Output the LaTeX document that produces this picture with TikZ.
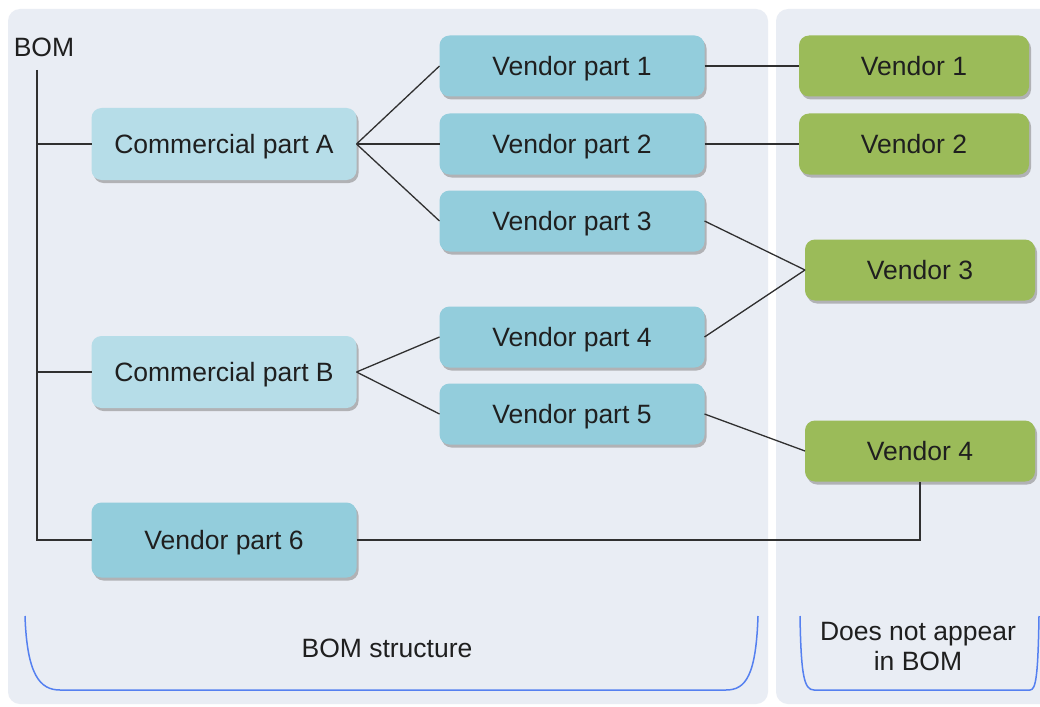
\documentclass[tikz,border=0pt]{standalone}
\usepackage{fontspec}
\setmainfont{Liberation Sans}
\usetikzlibrary{shadows}

\definecolor{panelbg}{HTML}{E9EDF4}
\definecolor{cpfill}{HTML}{B6DDE8}
\definecolor{vpfill}{HTML}{93CDDC}
\definecolor{vendfill}{HTML}{9BBB59}
\definecolor{txt}{HTML}{1F1F1F}
\definecolor{linkc}{HTML}{303030}
\definecolor{bracec}{HTML}{5580F0}

\tikzset{
  box/.style={rounded corners=10pt, inner sep=0pt, outer sep=0pt,
    text=txt, font=\fontsize{26.5}{31}\selectfont,
    text height=19pt, text depth=0pt,
    drop shadow={shadow xshift=2pt, shadow yshift=-3pt, fill=black!45, opacity=0.6}},
  cpart/.style={box, fill=cpfill, minimum width=265pt, minimum height=72pt},
  vpart/.style={box, fill=vpfill, minimum width=265pt, minimum height=61pt},
  vendor/.style={box, fill=vendfill, minimum width=230pt, minimum height=61pt},
  link/.style={draw=linkc, line width=1.3pt},
  bracket/.style={draw=bracec, line width=1.5pt},
  caption/.style={text=txt, font=\fontsize{26.5}{31}\selectfont, align=center, inner sep=0pt},
  panel/.style={fill=panelbg, rounded corners=12pt}
}

\begin{document}
\begin{tikzpicture}[x=1pt, y=-1pt]
\useasboundingbox (0,0) rectangle (1040,706);
\fill[white] (0,0) rectangle (1040,706);

% two background panels
\fill[panel] (8,9) rectangle (768,704);
\fill[panel] (776,9) rectangle (1060,704);

% BOM root label and trunk
\node[caption] (bom) at (44,47) {BOM};
\coordinate (trunk) at (37,70);

% BOM items
\node[cpart] (cpa) at (224,144) {Commercial part A};
\node[cpart] (cpb) at (224,372) {Commercial part B};
\node[vpart, minimum height=75pt] (vp6) at (224,540) {Vendor part 6};

% vendor parts
\node[vpart] (vp1) at (572,66) {Vendor part 1};
\node[vpart] (vp2) at (572,144) {Vendor part 2};
\node[vpart] (vp3) at (572,221) {Vendor part 3};
\node[vpart] (vp4) at (572,337) {Vendor part 4};
\node[vpart] (vp5) at (572,414) {Vendor part 5};

% vendors
\node[vendor] (v1) at (914,66) {Vendor 1};
\node[vendor] (v2) at (914,144) {Vendor 2};
\node[vendor] (v3) at (920,270) {Vendor 3};
\node[vendor] (v4) at (920,451) {Vendor 4};

% tree connectors
\draw[link] (trunk) -- (trunk |- vp6.west) -- (vp6.west);
\draw[link] (trunk |- cpa.west) -- (cpa.west);
\draw[link] (trunk |- cpb.west) -- (cpb.west);

\draw[link] (cpa.east) -- (vp1.west);
\draw[link] (cpa.east) -- (vp2.west);
\draw[link] (cpa.east) -- (vp3.west);
\draw[link] (cpb.east) -- (vp4.west);
\draw[link] (cpb.east) -- (vp5.west);

\draw[link] (vp1.east) -- (v1.west);
\draw[link] (vp2.east) -- (v2.west);
\draw[link] (vp3.east) -- (v3.west);
\draw[link] (vp4.east) -- (v3.west);
\draw[link] (vp5.east) -- (v4.west);
\draw[link] (vp6.east) -| (v4.south);

% grouping brackets with captions
\draw[bracket] (25,616) .. controls (27,675) and (40,690) .. (60,690)
  -- (726,690) .. controls (746,690) and (756,675) .. (758,616);
\node[caption] (bomcap) at (387,648) {BOM structure};

\draw[bracket] (800,616) .. controls (801,675) and (804,690) .. (814,690)
  -- (1030,690) .. controls (1036,690) and (1038,675) .. (1039,616);
\node[caption] (notcap) at (918,647) {Does not appear\\[-1pt]in BOM};
\end{tikzpicture}
\end{document}
